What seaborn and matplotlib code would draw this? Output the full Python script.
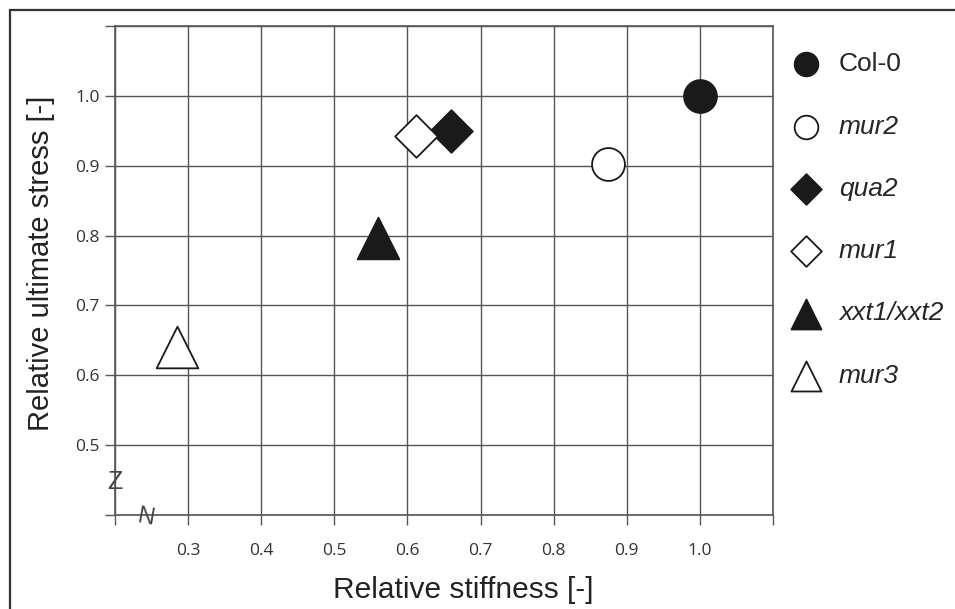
import matplotlib
matplotlib.use("Agg")
import matplotlib.pyplot as plt
import seaborn as sns

# Data
lines = ["Col-0", "mur2", "qua2", "mur1", "xxt1/xxt2", "mur3"]
stiffness = [1.0, 0.875, 0.66, 0.612, 0.56, 0.285]
stress = [1.0, 0.902, 0.95, 0.943, 0.797, 0.64]
markers = ["o", "o", "D", "D", "^", "^"]
filled = [True, False, True, False, True, False]
sizes = [560, 560, 470, 470, 900, 900]

xticks = [0.2, 0.3, 0.4, 0.5, 0.6, 0.7, 0.8, 0.9, 1.0, 1.1]
xlabels = ["", "0.3", "0.4", "0.5", "0.6", "0.7", "0.8", "0.9", "1.0", ""]
yticks = [0.4, 0.5, 0.6, 0.7, 0.8, 0.9, 1.0, 1.1]
ylabels = ["", "0.5", "0.6", "0.7", "0.8", "0.9", "1.0", ""]

sns.set_style("white")
plt.rcParams["font.family"] = ["Liberation Sans", "DejaVu Sans"]

dark = "#1a1a1a"
fig = plt.figure(figsize=(9.55, 6.09), dpi=100)
ax = fig.add_axes([0.1204, 0.1544, 0.689, 0.8029])

for name, x, y, m, f, s in zip(lines, stiffness, stress, markers, filled, sizes):
    sns.scatterplot(x=[x], y=[y], marker=m, s=s, color=dark if f else "white",
                    edgecolor=dark, linewidth=1.3, label=name, ax=ax, zorder=3)

ax.set_xlim(0.2, 1.1)
ax.set_ylim(0.4, 1.1)
ax.set_xticks(xticks)
ax.set_xticklabels(xlabels)
ax.set_yticks(yticks)
ax.set_yticklabels(ylabels)
ax.grid(True, color="#555555", lw=1)
for sp in ax.spines.values():
    sp.set_color("#555555")
    sp.set_linewidth(1.2)
ax.tick_params(axis="both", direction="out", length=7, width=1, color="#555555",
               labelsize=12.5, labelcolor="#333333", bottom=True, left=True)
ax.tick_params(axis="x", pad=13)
ax.tick_params(axis="y", pad=4)
for t in ax.get_xticklabels() + ax.get_yticklabels():
    t.set_fontfamily("Open Sans")

ax.set_xlabel("Relative stiffness [-]", fontsize=21.5, color="#222222")
ax.set_ylabel("Relative ultimate stress [-]", fontsize=21, color="#222222")
ax.xaxis.set_label_coords(0.53, -0.153)
ax.xaxis.label.set_va("center")
ax.yaxis.set_label_coords(-0.112, 0.515)
ax.yaxis.label.set_va("center")

# axis break marks
ax.text(0.0, 0.067, "Z", transform=ax.transAxes, fontsize=18, ha="center", va="center",
        color="#444444")
ax.text(0.046, -0.006, "N", transform=ax.transAxes, fontsize=17, ha="center", va="center",
        color="#444444", rotation=-10)

leg = ax.legend(loc="upper left", bbox_to_anchor=(0.97, 1.0), frameon=False,
                fontsize=19, labelspacing=1.45, markerscale=0.72, handletextpad=0.25,
                borderaxespad=0.6)
for t in leg.get_texts():
    if t.get_text() != "Col-0":
        t.set_fontstyle("italic")

# outer frame
fig.patches.append(plt.Rectangle((10 / 955, -0.1), 1.2, 1.1 - 10 / 609, transform=fig.transFigure,
                                 fill=False, ec="#333333", lw=1.6))

fig.savefig("out.png", dpi=100)
